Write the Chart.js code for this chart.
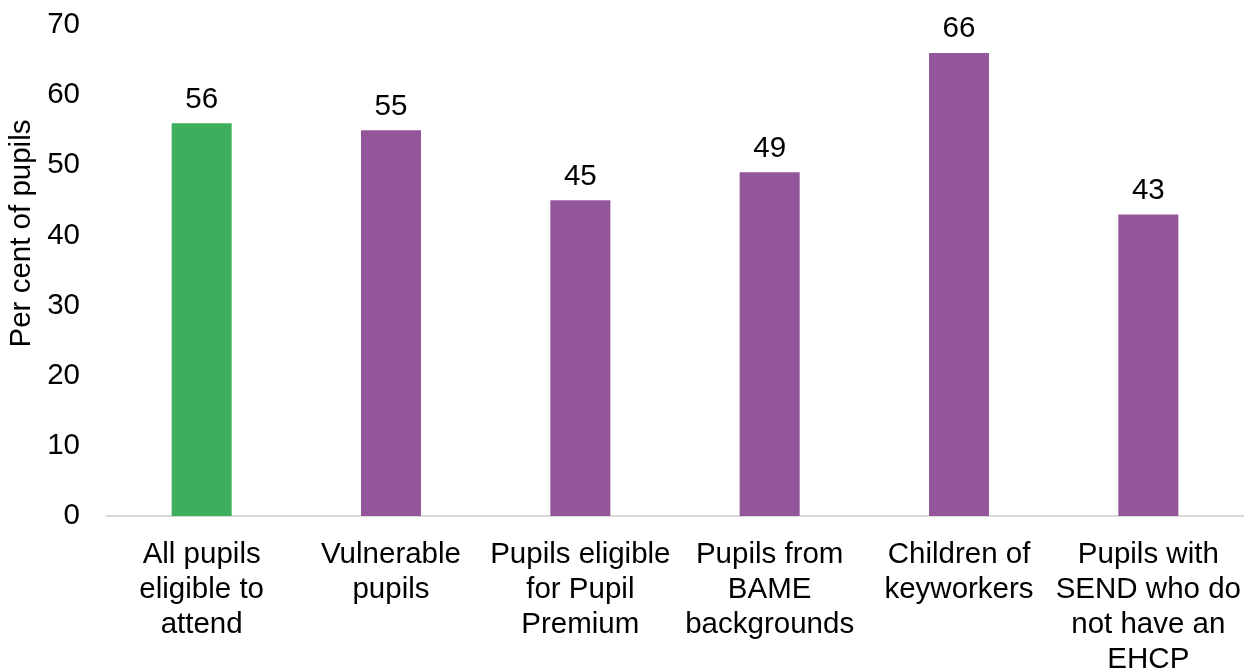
<!DOCTYPE html>
<html lang="en">
<head>
  <meta charset="utf-8">
  <title>Pupils attending</title>
  <script src="https://cdn.jsdelivr.net/npm/chart.js@4/dist/chart.umd.min.js"></script>
  <style>
    html, body { margin: 0; padding: 0; background: #fff; }
    #wrap { width: 1250px; height: 668px; }
  </style>
</head>
<body>
  <div id="wrap"><canvas id="myChart"></canvas></div>

  <script>
    const categories = [
      ['All pupils', 'eligible to', 'attend'],
      ['Vulnerable', 'pupils'],
      ['Pupils eligible', 'for Pupil', 'Premium'],
      ['Pupils from', 'BAME', 'backgrounds'],
      ['Children of', 'keyworkers'],
      ['Pupils with', 'SEND who do', 'not have an', 'EHCP']
    ];
    const percentValues = [56, 55, 45, 49, 66, 43];
    const barColours = ['#3DAE5B', '#93569B', '#93569B', '#93569B', '#93569B', '#93569B'];
    const yTicks = [0, 10, 20, 30, 40, 50, 60, 70];
    const yTitle = 'Per cent of pupils';

    const FONT = 'Liberation Sans, Arial, sans-serif';
    const FONT_SIZE = 29.5;

    // value above each bar, plus the rotated y axis title
    const extraText = {
      id: 'extraText',
      afterDatasetsDraw(chart) {
        const ctx = chart.ctx;
        const meta = chart.getDatasetMeta(0);
        ctx.save();
        ctx.font = FONT_SIZE + 'px ' + FONT;
        ctx.fillStyle = '#000';
        ctx.textAlign = 'center';
        ctx.textBaseline = 'bottom';
        meta.data.forEach((bar, i) => {
          ctx.fillText(chart.data.datasets[0].data[i], bar.x, bar.y - 9);
        });

        const area = chart.chartArea;
        ctx.translate(22, (area.top + area.bottom) / 2 - 37);
        ctx.rotate(-Math.PI / 2);
        ctx.textBaseline = 'middle';
        ctx.fillText(yTitle, 0, 0);
        ctx.restore();
      }
    };

    new Chart(document.getElementById('myChart'), {
      type: 'bar',
      data: {
        labels: categories,
        datasets: [{
          data: percentValues,
          backgroundColor: barColours,
          barPercentage: 1,
          categoryPercentage: 0.317
        }]
      },
      options: {
        responsive: true,
        maintainAspectRatio: false,
        animation: false,
        layout: { padding: { top: 25, right: 7, left: 0, bottom: 0 } },
        plugins: {
          legend: { display: false },
          tooltip: { enabled: false }
        },
        scales: {
          x: {
            grid: { display: false, drawTicks: false },
            border: { color: '#d9d9d9', width: 2 },
            ticks: {
              color: '#000',
              font: { family: FONT, size: FONT_SIZE, lineHeight: 1.19 },
              padding: 21,
              maxRotation: 0,
              autoSkip: false
            },
            afterFit: scale => {
              scale.height = 152;
              scale.paddingLeft = 0;
              scale.paddingRight = 0;
            }
          },
          y: {
            min: 0,
            max: 70,
            afterBuildTicks: scale => { scale.ticks = yTicks.map(v => ({ value: v })); },
            grid: { display: false, drawTicks: false },
            border: { display: false },
            ticks: {
              color: '#000',
              font: { family: FONT, size: FONT_SIZE },
              padding: 27
            },
            afterFit: scale => {
              scale.width = 107;
              scale.paddingTop = 0;
              scale.paddingBottom = 0;
            }
          }
        }
      },
      plugins: [extraText]
    });
  </script>
</body>
</html>
